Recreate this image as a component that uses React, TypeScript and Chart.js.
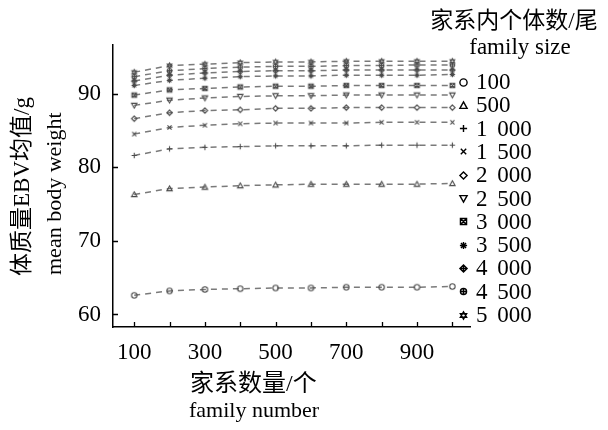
import React, { useEffect, useRef } from 'react';
import { Chart, registerables } from 'chart.js';

Chart.register(...registerables);

// ---- data ----
const familyNumbers = [100, 200, 300, 400, 500, 600, 700, 800, 900, 1000];
const xTickValues = [100, 200, 300, 400, 500, 600, 700, 800, 900, 1000];
const xLabelValues = [100, 300, 500, 700, 900];
const yTickValues = [60, 70, 80, 90];

const size100 = [62.6, 63.2, 63.4, 63.5, 63.6, 63.6, 63.7, 63.7, 63.7, 63.8];
const size500 = [76.3, 77.1, 77.3, 77.5, 77.6, 77.7, 77.7, 77.7, 77.7, 77.8];
const size1000 = [81.6, 82.5, 82.7, 82.8, 82.9, 82.9, 82.9, 83.0, 83.0, 83.0];
const size1500 = [84.5, 85.4, 85.7, 85.9, 86.0, 86.0, 86.0, 86.1, 86.1, 86.1];
const size2000 = [86.6, 87.4, 87.7, 87.8, 88.0, 88.0, 88.1, 88.1, 88.1, 88.1];
const size2500 = [88.4, 89.1, 89.4, 89.6, 89.7, 89.7, 89.8, 89.8, 89.8, 89.8];
const size3000 = [89.8, 90.5, 90.7, 90.9, 91.0, 91.0, 91.1, 91.1, 91.1, 91.1];
const size3500 = [91.1, 91.8, 92.1, 92.3, 92.4, 92.4, 92.5, 92.5, 92.5, 92.6];
const size4000 = [91.7, 92.5, 92.8, 93.0, 93.1, 93.1, 93.2, 93.2, 93.2, 93.2];
const size4500 = [92.3, 93.1, 93.4, 93.6, 93.7, 93.7, 93.8, 93.8, 93.9, 93.9];
const size5000 = [92.9, 93.8, 94.0, 94.2, 94.3, 94.3, 94.4, 94.4, 94.4, 94.4];

const seriesValues = [size100, size500, size1000, size1500, size2000, size2500, size3000, size3500, size4000, size4500, size5000];
const seriesLabels = ['100', '500', '1 000', '1 500', '2 000', '2 500', '3 000', '3 500', '4 000', '4 500', '5 000'];

const legendTitle = '家系内个体数/尾';
const legendSubtitle = 'family size';
const xTitle = ['家系数量/个', 'family number'];
const yTitle = ['体质量EBV均值/g', 'mean body weight'];

// ---- styles ----
const markerShapes = ['circle', 'triUp', 'plus', 'cross', 'diamond', 'triDown', 'boxX', 'asterisk', 'diamondPlus', 'circlePlus', 'starDavid'];
const FONT = "'Liberation Serif', 'Times New Roman', 'Noto Sans CJK SC', serif";

function drawShape(ctx: CanvasRenderingContext2D, shape: string, cx: number, cy: number, r: number) {
  ctx.beginPath();
  switch (shape) {
    case 'circle':
      ctx.arc(cx, cy, r, 0, Math.PI * 2);
      break;
    case 'triUp':
      ctx.moveTo(cx, cy - r);
      ctx.lineTo(cx + r, cy + r * 0.8);
      ctx.lineTo(cx - r, cy + r * 0.8);
      ctx.closePath();
      break;
    case 'triDown':
      ctx.moveTo(cx, cy + r);
      ctx.lineTo(cx + r, cy - r * 0.8);
      ctx.lineTo(cx - r, cy - r * 0.8);
      ctx.closePath();
      break;
    case 'plus':
      ctx.moveTo(cx - r, cy); ctx.lineTo(cx + r, cy);
      ctx.moveTo(cx, cy - r); ctx.lineTo(cx, cy + r);
      break;
    case 'cross': {
      const d = r * 0.75;
      ctx.moveTo(cx - d, cy - d); ctx.lineTo(cx + d, cy + d);
      ctx.moveTo(cx + d, cy - d); ctx.lineTo(cx - d, cy + d);
      break;
    }
    case 'diamond':
      ctx.moveTo(cx, cy - r); ctx.lineTo(cx + r, cy); ctx.lineTo(cx, cy + r); ctx.lineTo(cx - r, cy); ctx.closePath();
      break;
    case 'boxX': {
      const d = r * 0.85;
      ctx.rect(cx - d, cy - d, 2 * d, 2 * d);
      ctx.moveTo(cx - d, cy - d); ctx.lineTo(cx + d, cy + d);
      ctx.moveTo(cx + d, cy - d); ctx.lineTo(cx - d, cy + d);
      break;
    }
    case 'asterisk': {
      for (let i = 0; i < 4; i++) {
        const a = (Math.PI / 4) * i;
        ctx.moveTo(cx - r * Math.cos(a), cy - r * Math.sin(a));
        ctx.lineTo(cx + r * Math.cos(a), cy + r * Math.sin(a));
      }
      break;
    }
    case 'diamondPlus':
      ctx.moveTo(cx, cy - r); ctx.lineTo(cx + r, cy); ctx.lineTo(cx, cy + r); ctx.lineTo(cx - r, cy); ctx.closePath();
      ctx.moveTo(cx - r, cy); ctx.lineTo(cx + r, cy);
      ctx.moveTo(cx, cy - r); ctx.lineTo(cx, cy + r);
      break;
    case 'circlePlus':
      ctx.arc(cx, cy, r * 0.85, 0, Math.PI * 2);
      ctx.moveTo(cx - r * 0.85, cy); ctx.lineTo(cx + r * 0.85, cy);
      ctx.moveTo(cx, cy - r * 0.85); ctx.lineTo(cx, cy + r * 0.85);
      break;
    case 'starDavid':
      ctx.moveTo(cx, cy - r); ctx.lineTo(cx + r * 0.87, cy + r * 0.5); ctx.lineTo(cx - r * 0.87, cy + r * 0.5); ctx.closePath();
      ctx.moveTo(cx, cy + r); ctx.lineTo(cx + r * 0.87, cy - r * 0.5); ctx.lineTo(cx - r * 0.87, cy - r * 0.5); ctx.closePath();
      break;
  }
  ctx.stroke();
}

function makeMarker(shape: string, r: number, color: string, lw: number): HTMLCanvasElement {
  const s = Math.ceil(2 * r + lw + 2);
  const c = document.createElement('canvas');
  c.width = s;
  c.height = s;
  const ctx = c.getContext('2d')!;
  ctx.strokeStyle = color;
  ctx.lineWidth = lw;
  drawShape(ctx, shape, s / 2, s / 2, r);
  return c;
}

export default function App() {
  const canvasRef = useRef<HTMLCanvasElement | null>(null);

  useEffect(() => {
    document.body.style.margin = '0';
    const canvas = canvasRef.current;
    if (!canvas) return;

    const plotMarkers = markerShapes.map((s) => makeMarker(s, 2.7, '#4a4a4a', 1.1));
    const legendMarkers = markerShapes.map((s) => makeMarker(s, 3.6, '#000000', 1.4));

    const datasets = seriesValues.map((vals, i) => ({
      label: seriesLabels[i],
      data: familyNumbers.map((x, j) => ({ x, y: vals[j] })),
      borderColor: '#7a7a7a',
      borderWidth: 1.5,
      borderDash: [6, 5],
      pointStyle: plotMarkers[i] as any,
      pointRadius: 3,
      fill: false,
      tension: 0,
    }));

    const decorPlugin = {
      id: 'decor',
      afterDraw(chart: any) {
        const ctx = chart.ctx as CanvasRenderingContext2D;
        const xs = chart.scales.x;
        const ys = chart.scales.y;
        const area = chart.chartArea;
        ctx.save();
        // inward tick marks
        ctx.strokeStyle = '#000';
        ctx.lineWidth = 1.3;
        ctx.beginPath();
        xTickValues.forEach((v) => {
          const px = Math.round(xs.getPixelForValue(v)) + 0.5;
          ctx.moveTo(px, area.bottom);
          ctx.lineTo(px, area.bottom - 5);
        });
        yTickValues.forEach((v) => {
          const py = Math.round(ys.getPixelForValue(v)) + 0.5;
          ctx.moveTo(area.left, py);
          ctx.lineTo(area.left + 5, py);
        });
        ctx.stroke();

        ctx.fillStyle = '#000';
        ctx.textBaseline = 'middle';

        // legend title
        ctx.font = `23px ${FONT}`;
        ctx.textAlign = 'center';
        ctx.fillText(legendTitle, 514, 22);
        ctx.fillText(legendSubtitle, 520, 48);

        // legend items
        ctx.textAlign = 'left';
        (ctx as any).wordSpacing = '4px';
        seriesLabels.forEach((lab, i) => {
          const y = 82 + i * 23.3;
          const m = legendMarkers[i];
          ctx.drawImage(m, Math.round(463 - m.width / 2), Math.round(y - m.height / 2));
          ctx.fillText(lab, 476, y + 1);
        });
        (ctx as any).wordSpacing = '0px';

        // x title
        ctx.textAlign = 'left';
        ctx.font = `24px ${FONT}`;
        ctx.fillText(xTitle[0], 190, 385);
        ctx.font = `22px ${FONT}`;
        ctx.fillText(xTitle[1], 189, 411);

        // y title (rotated)
        ctx.save();
        ctx.translate(23, 276);
        ctx.rotate(-Math.PI / 2);
        ctx.textAlign = 'left';
        ctx.font = `23px ${FONT}`;
        ctx.fillText(yTitle[0], 0, 0);
        ctx.restore();
        ctx.save();
        ctx.translate(55, 275);
        ctx.rotate(-Math.PI / 2);
        ctx.textAlign = 'left';
        ctx.font = `22px ${FONT}`;
        ctx.fillText(yTitle[1], 0, 0);
        ctx.restore();

        ctx.restore();
      },
    };

    const chart = new Chart(canvas, {
      type: 'line',
      data: { datasets },
      options: {
        animation: false,
        responsive: false,
        devicePixelRatio: 1,
        layout: { padding: { top: 45, right: 138, left: 0, bottom: 0 } },
        plugins: { legend: { display: false }, tooltip: { enabled: false } },
        scales: {
          x: {
            type: 'linear',
            min: 40,
            max: 1050,
            grid: { display: false, drawTicks: false },
            border: { display: true, color: '#000', width: 1.5 },
            afterBuildTicks: (scale: any) => {
              scale.ticks = xTickValues.map((v) => ({ value: v }));
            },
            afterFit: (scale: any) => {
              scale.height = 103;
            },
            ticks: {
              autoSkip: false,
              maxRotation: 0,
              padding: 12,
              color: '#000',
              font: { family: FONT, size: 23 },
              callback: (v: any) => (xLabelValues.includes(Number(v)) ? String(v) : ''),
            },
          },
          y: {
            type: 'linear',
            min: 58.3,
            max: 96.6,
            grid: { display: false, drawTicks: false },
            border: { display: true, color: '#000', width: 1.5 },
            afterBuildTicks: (scale: any) => {
              scale.ticks = yTickValues.map((v) => ({ value: v }));
            },
            afterFit: (scale: any) => {
              scale.width = 113;
            },
            ticks: {
              padding: 12,
              color: '#000',
              font: { family: FONT, size: 23 },
              callback: (v: any) => String(v),
            },
          },
        },
      },
      plugins: [decorPlugin],
    });

    return () => {
      chart.destroy();
    };
  }, []);

  return (
    <div style={{ width: 608, height: 430, overflow: 'hidden', background: '#fff' }}>
      <canvas ref={canvasRef} width={608} height={430} style={{ display: 'block' }} />
    </div>
  );
}
